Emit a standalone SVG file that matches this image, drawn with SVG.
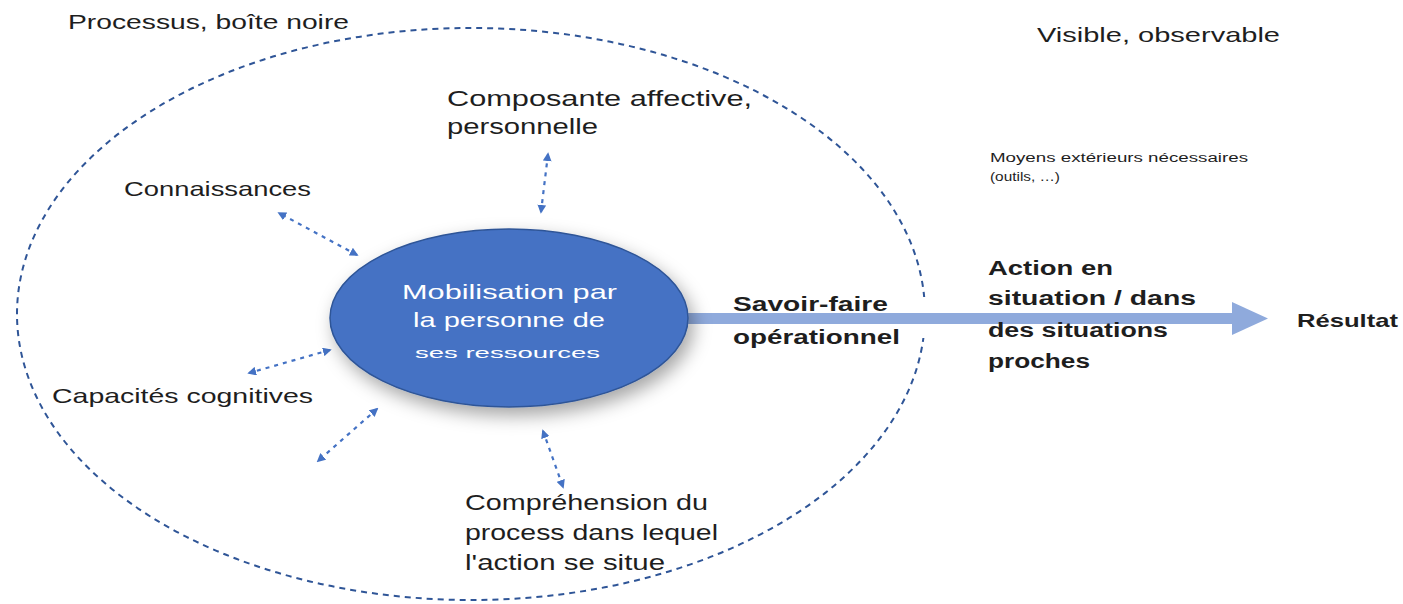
<svg xmlns="http://www.w3.org/2000/svg" width="1403" height="604" viewBox="0 0 1403 604">
<style>
  .t { font-family: "Liberation Sans", Arial, sans-serif; font-size: 21px; fill: #1e1e1e; }
  .b { font-family: "Liberation Sans", Arial, sans-serif; font-size: 20px; font-weight: bold; fill: #1e1e1e; }
  .w { font-family: "Liberation Sans", Arial, sans-serif; font-size: 21px; fill: #ffffff; }
  .s { font-family: "Liberation Sans", Arial, sans-serif; font-size: 12px; fill: #1e1e1e; }
  .dash { fill: none; stroke: #4472C4; stroke-width: 2.2; stroke-dasharray: 4 5; marker-start: url(#ah); marker-end: url(#ah); }
</style>
<defs>
  <marker id="ah" viewBox="0 0 10 10" refX="8" refY="5" markerWidth="4" markerHeight="4" orient="auto-start-reverse">
    <path d="M0,0 L10,5 L0,10 z" fill="#4472C4"/>
  </marker>
  <filter id="sh" x="-30%" y="-30%" width="160%" height="170%">
    <feDropShadow dx="5" dy="8" stdDeviation="9" flood-color="#000" flood-opacity="0.35"/>
  </filter>
</defs>
<rect width="1403" height="604" fill="#ffffff"/>

<g id="boundary">
  <ellipse cx="471" cy="314" rx="454" ry="286" fill="none" stroke="#2F5597" stroke-width="2" stroke-dasharray="6 5"/>
  <rect x="905" y="297" width="40" height="41" fill="#ffffff"/>
</g>

<g id="connectors">
  <line class="dash" x1="541" y1="212" x2="548" y2="154"/>
  <line class="dash" x1="357" y1="255" x2="279" y2="213"/>
  <line class="dash" x1="330" y1="350" x2="249" y2="373"/>
  <line class="dash" x1="377" y1="409" x2="318" y2="461"/>
  <line class="dash" x1="543" y1="431" x2="563" y2="487"/>
  <g id="main-arrow">
    <rect x="680" y="313" width="554" height="11" fill="#8FAADC"/>
    <polygon points="1232,302 1268,318.5 1232,335" fill="#8FAADC"/>
  </g>
</g>

<g id="center">
  <ellipse cx="509" cy="318" rx="179" ry="89" fill="#4472C4" stroke="#2F5597" stroke-width="1.5" filter="url(#sh)"/>
  <text class="w" x="402" y="299" textLength="215" lengthAdjust="spacingAndGlyphs">Mobilisation par</text>
  <text class="w" x="413" y="327" textLength="192" lengthAdjust="spacingAndGlyphs">la personne de</text>
  <text class="w" x="415" y="358" style="font-size:15px" textLength="185" lengthAdjust="spacingAndGlyphs">ses ressources</text>
</g>

<g id="label-processus">
  <text class="t" x="68" y="29" textLength="281" lengthAdjust="spacingAndGlyphs">Processus, boîte noire</text>
</g>
<g id="label-visible">
  <text class="t" x="1037" y="42" textLength="243" lengthAdjust="spacingAndGlyphs">Visible, observable</text>
</g>
<g id="node-composante">
  <text class="t" x="447" y="106" style="font-size:22px" textLength="305" lengthAdjust="spacingAndGlyphs">Composante affective,</text>
  <text class="t" x="447" y="134" style="font-size:22px" textLength="151" lengthAdjust="spacingAndGlyphs">personnelle</text>
</g>
<g id="node-connaissances">
  <text class="t" x="124" y="196" textLength="187" lengthAdjust="spacingAndGlyphs">Connaissances</text>
</g>
<g id="node-capacites">
  <text class="t" x="52" y="403" textLength="261" lengthAdjust="spacingAndGlyphs">Capacités cognitives</text>
</g>
<g id="node-comprehension">
  <text class="t" x="465" y="510" style="font-size:22px" textLength="243" lengthAdjust="spacingAndGlyphs">Compréhension du</text>
  <text class="t" x="465" y="540" style="font-size:22px" textLength="253" lengthAdjust="spacingAndGlyphs">process dans lequel</text>
  <text class="t" x="465" y="570" style="font-size:22px" textLength="200" lengthAdjust="spacingAndGlyphs">l'action se situe</text>
</g>
<g id="node-moyens">
  <text class="s" x="990" y="162" textLength="258" lengthAdjust="spacingAndGlyphs">Moyens extérieurs nécessaires</text>
  <text class="s" x="990" y="181" textLength="70" lengthAdjust="spacingAndGlyphs">(outils, …)</text>
</g>
<g id="node-savoirfaire">
  <text class="b" x="733" y="311" textLength="155" lengthAdjust="spacingAndGlyphs">Savoir-faire</text>
  <text class="b" x="733" y="344" textLength="167" lengthAdjust="spacingAndGlyphs">opérationnel</text>
</g>
<g id="node-action">
  <text class="b" x="988" y="275" textLength="125" lengthAdjust="spacingAndGlyphs">Action en</text>
  <text class="b" x="988" y="305" textLength="208" lengthAdjust="spacingAndGlyphs">situation / dans</text>
  <text class="b" x="988" y="337" textLength="180" lengthAdjust="spacingAndGlyphs">des situations</text>
  <text class="b" x="988" y="368" textLength="102" lengthAdjust="spacingAndGlyphs">proches</text>
</g>
<g id="node-resultat">
  <text class="b" x="1297" y="327" style="font-size:19px" textLength="101" lengthAdjust="spacingAndGlyphs">Résultat</text>
</g>
</svg>
